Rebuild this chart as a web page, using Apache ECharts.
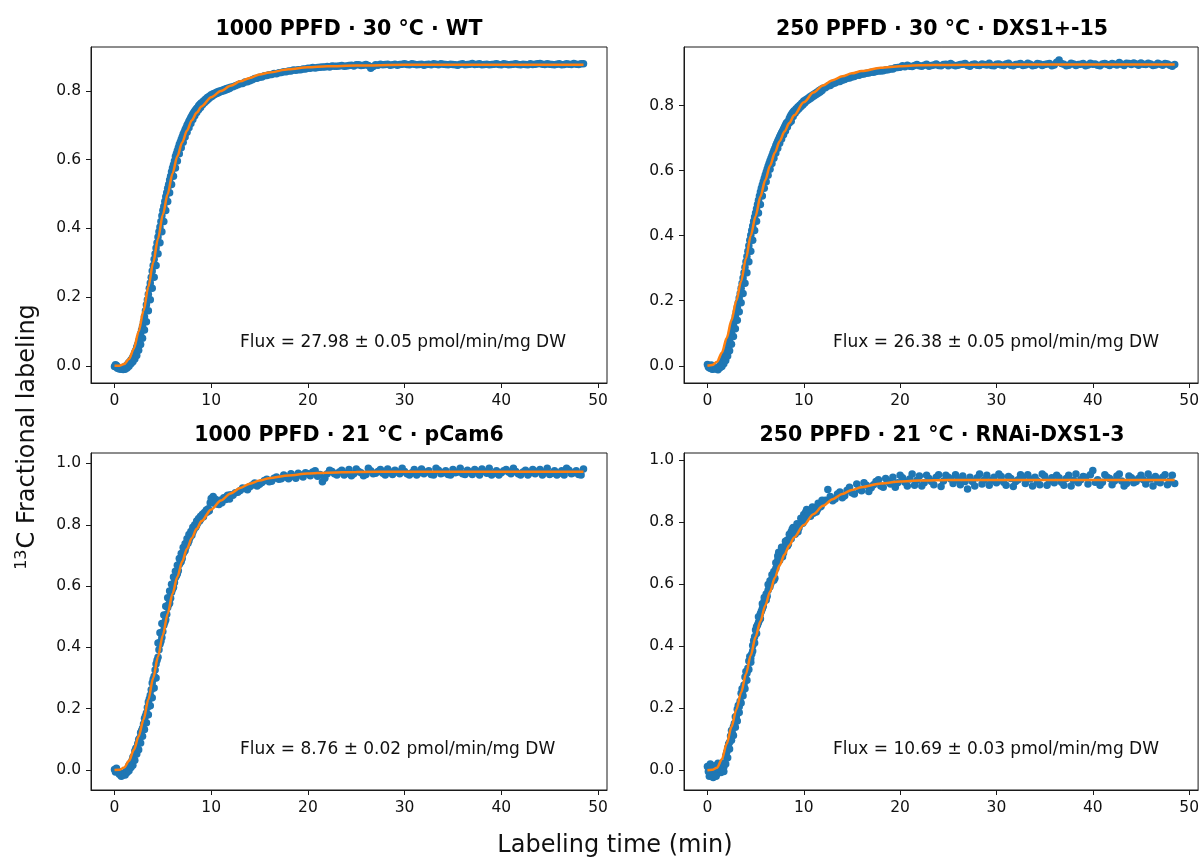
<!DOCTYPE html>
<html>
<head>
<meta charset="utf-8">
<title>13C fractional labeling</title>
<script src="https://cdn.jsdelivr.net/npm/echarts@6/dist/echarts.min.js"></script>
<style>
  html, body { margin: 0; padding: 0; background: #fff; }
  #main { width: 1202px; height: 859px; }
</style>
</head>
<body>
<div id="main"></div>
<script>
// sampling times (min), shared by the four measured series
var times = [
  0, 0.2, 0.4, 0.6, 0.8, 1, 1.2, 1.4,
  1.5, 1.6, 1.7, 1.8, 1.9, 2, 2.1, 2.2, 2.3, 2.4,
  2.5, 2.6, 2.7, 2.8, 2.9, 3, 3.1, 3.2, 3.3, 3.4,
  3.5, 3.6, 3.7, 3.8, 3.9, 4, 4.1, 4.2, 4.3, 4.4,
  4.5, 4.6, 4.7, 4.8, 4.9, 5, 5.1, 5.2, 5.3, 5.4,
  5.5, 5.6, 5.7, 5.8, 5.9, 6, 6.1, 6.2, 6.3, 6.4,
  6.5, 6.6, 6.7, 6.8, 6.9, 7, 7.1, 7.2, 7.3, 7.4,
  7.5, 7.6, 7.7, 7.8, 7.9, 8, 8.1, 8.2, 8.3, 8.4,
  8.5, 8.6, 8.7, 8.8, 8.9,
  9, 9.2, 9.4, 9.6, 9.8, 10, 10.2, 10.4,
  10.6, 10.8, 11, 11.2, 11.4, 11.6, 11.8, 12,
  12.5, 13, 13.5, 14, 14.5, 15, 15.5, 16, 16.5, 17,
  17.5, 18, 18.5, 19, 19.5, 20, 20.5, 21, 21.5, 22,
  22.5, 23, 23.5, 24, 24.5, 25, 25.5, 26, 26.5, 27,
  27.5, 28, 28.5, 29, 29.5, 30, 30.5, 31, 31.5, 32,
  32.5, 33, 33.5, 34, 34.5, 35, 35.5, 36, 36.5, 37,
  37.5, 38, 38.5, 39, 39.5, 40, 40.5, 41, 41.5, 42,
  42.5, 43, 43.5, 44, 44.5, 45, 45.5, 46, 46.5, 47,
  47.5, 48, 48.5,
  // second pass of samples
  0.1, 0.3, 0.5, 0.7, 0.9, 1.1, 1.3, 1.5, 1.7, 1.9,
  2.1, 2.3, 2.5, 2.7, 2.9, 3.1, 3.3, 3.5, 3.7, 3.9,
  4.1, 4.3, 4.5, 4.7, 4.9, 5.1, 5.3, 5.5, 5.7, 5.9,
  6.1, 6.3, 6.5, 6.7, 6.9, 7.1, 7.3, 7.5, 7.7, 7.9,
  8.1, 8.3, 8.5, 8.7, 8.9, 9.1, 9.3, 9.5, 9.7, 9.9,
  10.1, 10.3, 10.5, 10.7, 10.9, 11.1, 11.3, 11.5, 11.7, 11.9,
  12.25, 12.75, 13.25, 13.75, 14.25, 14.75, 15.25, 15.75, 16.25, 16.75,
  17.25, 17.75, 18.25, 18.75, 19.25, 19.75, 20.25, 20.75, 21.25, 21.75,
  22.25, 22.75, 23.25, 23.75, 24.25, 24.75, 25.25, 25.75, 26.25, 26.75,
  27.25, 27.75, 28.25, 28.75, 29.25, 29.75, 30.25, 30.75, 31.25, 31.75,
  32.25, 32.75, 33.25, 33.75, 34.25, 34.75, 35.25, 35.75, 36.25, 36.75,
  37.25, 37.75, 38.25, 38.75, 39.25, 39.75, 40.25, 40.75, 41.25, 41.75,
  42.25, 42.75, 43.25, 43.75, 44.25, 44.75, 45.25, 45.75, 46.25, 46.75,
  47.25, 47.75, 48.25
];

var wtMeasured = [
  -0.002, 0.001, -0.004, -0.006, -0.008, -0.004, 0.000, 0.006,
  0.010, 0.012, 0.017, 0.020, 0.026, 0.030, 0.039, 0.045, 0.055, 0.062,
  0.072, 0.080, 0.093, 0.104, 0.115, 0.128, 0.143, 0.160, 0.178, 0.192,
  0.208, 0.226, 0.241, 0.258, 0.276, 0.292, 0.310, 0.326, 0.343, 0.358,
  0.375, 0.390, 0.404, 0.420, 0.437, 0.452, 0.464, 0.478, 0.492, 0.504,
  0.517, 0.528, 0.541, 0.552, 0.565, 0.576, 0.585, 0.596, 0.609, 0.617,
  0.626, 0.635, 0.644, 0.651, 0.659, 0.666, 0.674, 0.680, 0.687, 0.693,
  0.700, 0.705, 0.712, 0.717, 0.723, 0.728, 0.733, 0.737, 0.742, 0.745,
  0.749, 0.752, 0.757, 0.760, 0.763,
  0.766, 0.771, 0.776, 0.781, 0.785, 0.789, 0.792, 0.794,
  0.797, 0.799, 0.801, 0.803, 0.805, 0.807, 0.809, 0.811,
  0.815, 0.821, 0.826, 0.830, 0.836, 0.840, 0.844, 0.847, 0.851, 0.853,
  0.856, 0.858, 0.861, 0.862, 0.864, 0.866, 0.868, 0.868, 0.870, 0.871,
  0.873, 0.872, 0.874, 0.873, 0.875, 0.876, 0.874, 0.877, 0.866, 0.876,
  0.878, 0.877, 0.875, 0.878, 0.877, 0.879, 0.876, 0.878, 0.877, 0.875,
  0.878, 0.879, 0.876, 0.878, 0.876, 0.877, 0.875, 0.879, 0.877, 0.880,
  0.878, 0.876, 0.878, 0.877, 0.879, 0.876, 0.878, 0.877, 0.879, 0.876,
  0.877, 0.879, 0.878, 0.880, 0.877, 0.878, 0.876, 0.879, 0.877, 0.878,
  0.880, 0.877, 0.879,
  0.003, -0.007, -0.009, -0.010, -0.011, -0.010, -0.006, -0.001, 0.006, 0.012,
  0.020, 0.030, 0.045, 0.062, 0.080, 0.104, 0.128, 0.160, 0.192, 0.226,
  0.258, 0.292, 0.326, 0.358, 0.390, 0.420, 0.452, 0.478, 0.504, 0.528,
  0.552, 0.576, 0.596, 0.617, 0.635, 0.651, 0.666, 0.680, 0.693, 0.705,
  0.717, 0.728, 0.737, 0.745, 0.752, 0.760, 0.766, 0.771, 0.776, 0.781,
  0.785, 0.789, 0.792, 0.794, 0.797, 0.799, 0.801, 0.803, 0.805, 0.807,
  0.812, 0.818, 0.822, 0.827, 0.833, 0.837, 0.841, 0.845, 0.848, 0.850,
  0.854, 0.856, 0.858, 0.860, 0.862, 0.864, 0.866, 0.867, 0.869, 0.870,
  0.870, 0.872, 0.873, 0.872, 0.874, 0.873, 0.876, 0.875, 0.874, 0.871,
  0.875, 0.876, 0.878, 0.876, 0.875, 0.878, 0.877, 0.879, 0.876, 0.878,
  0.877, 0.876, 0.878, 0.879, 0.877, 0.878, 0.876, 0.878, 0.876, 0.878,
  0.877, 0.879, 0.877, 0.876, 0.878, 0.877, 0.879, 0.876, 0.878, 0.877,
  0.878, 0.876, 0.877, 0.879, 0.878, 0.879, 0.877, 0.878, 0.876, 0.879,
  0.877, 0.878, 0.879
];

var dxsMeasured = [
  0.004, -0.006, 0.002, -0.010, -0.008, -0.006, -0.002, 0.006,
  0.010, 0.016, 0.022, 0.030, 0.038, 0.046, 0.056, 0.066, 0.078, 0.090,
  0.101, 0.114, 0.127, 0.140, 0.153, 0.166, 0.180, 0.194, 0.208, 0.222,
  0.238, 0.254, 0.270, 0.286, 0.303, 0.320, 0.336, 0.352, 0.369, 0.386,
  0.401, 0.416, 0.430, 0.444, 0.457, 0.470, 0.483, 0.496, 0.509, 0.522,
  0.534, 0.546, 0.556, 0.566, 0.576, 0.586, 0.595, 0.604, 0.613, 0.622,
  0.630, 0.638, 0.646, 0.654, 0.662, 0.669, 0.677, 0.684, 0.691, 0.697,
  0.704, 0.710, 0.716, 0.722, 0.728, 0.734, 0.740, 0.746, 0.749, 0.752,
  0.760, 0.766, 0.772, 0.776, 0.780,
  0.784, 0.790, 0.796, 0.802, 0.808, 0.814, 0.818, 0.822,
  0.826, 0.830, 0.834, 0.838, 0.842, 0.846, 0.850, 0.853,
  0.860, 0.867, 0.873, 0.878, 0.884, 0.888, 0.893, 0.896, 0.899, 0.902,
  0.905, 0.906, 0.909, 0.912, 0.916, 0.918, 0.919, 0.921, 0.923, 0.922,
  0.924, 0.921, 0.925, 0.923, 0.926, 0.922, 0.925, 0.924, 0.927, 0.923,
  0.926, 0.924, 0.928, 0.925, 0.923, 0.927, 0.925, 0.928, 0.924, 0.926,
  0.929, 0.925, 0.927, 0.924, 0.928, 0.926, 0.929, 0.925, 0.940, 0.927,
  0.924, 0.928, 0.926, 0.929, 0.925, 0.927, 0.924, 0.928, 0.926, 0.929,
  0.925, 0.927, 0.930, 0.926, 0.928, 0.931, 0.926, 0.928, 0.925, 0.927,
  0.929, 0.924, 0.926,
  -0.004, -0.008, -0.011, -0.004, -0.010, -0.012, -0.006, -0.002, 0.006, 0.016,
  0.030, 0.046, 0.066, 0.090, 0.114, 0.140, 0.166, 0.194, 0.222, 0.254,
  0.286, 0.320, 0.352, 0.386, 0.416, 0.444, 0.470, 0.496, 0.522, 0.546,
  0.566, 0.586, 0.604, 0.622, 0.638, 0.654, 0.669, 0.684, 0.697, 0.710,
  0.722, 0.734, 0.746, 0.752, 0.766, 0.776, 0.784, 0.790, 0.796, 0.802,
  0.808, 0.814, 0.818, 0.822, 0.826, 0.830, 0.834, 0.838, 0.842, 0.846,
  0.855, 0.862, 0.869, 0.874, 0.880, 0.885, 0.889, 0.893, 0.897, 0.900,
  0.902, 0.906, 0.907, 0.910, 0.912, 0.917, 0.922, 0.924, 0.920, 0.926,
  0.921, 0.927, 0.923, 0.928, 0.922, 0.927, 0.929, 0.922, 0.926, 0.929,
  0.921, 0.928, 0.923, 0.926, 0.930, 0.922, 0.928, 0.923, 0.930, 0.922,
  0.927, 0.923, 0.930, 0.922, 0.929, 0.923, 0.928, 0.922, 0.933, 0.929,
  0.922, 0.930, 0.923, 0.927, 0.922, 0.930, 0.928, 0.922, 0.929, 0.923,
  0.927, 0.932, 0.923, 0.929, 0.931, 0.924, 0.927, 0.930, 0.923, 0.930,
  0.924, 0.928, 0.921
];

var pcamMeasured = [
  0.002, 0.006, -0.004, -0.012, -0.018, -0.010, -0.004, 0.006,
  0.016, 0.020, 0.018, 0.030, 0.042, 0.046, 0.062, 0.070, 0.074, 0.086,
  0.100, 0.104, 0.122, 0.128, 0.136, 0.150, 0.168, 0.176, 0.186, 0.204,
  0.222, 0.232, 0.244, 0.262, 0.284, 0.296, 0.306, 0.326, 0.346, 0.358,
  0.368, 0.392, 0.410, 0.420, 0.432, 0.452, 0.472, 0.482, 0.490, 0.508,
  0.530, 0.540, 0.544, 0.560, 0.580, 0.590, 0.596, 0.612, 0.628, 0.634,
  0.640, 0.650, 0.670, 0.676, 0.680, 0.690, 0.706, 0.712, 0.716, 0.728,
  0.742, 0.740, 0.748, 0.758, 0.770, 0.766, 0.776, 0.784, 0.794, 0.792,
  0.798, 0.806, 0.816, 0.812, 0.818,
  0.824, 0.826, 0.838, 0.842, 0.846, 0.886, 0.892, 0.884,
  0.868, 0.866, 0.878, 0.880, 0.884, 0.892, 0.890, 0.898,
  0.904, 0.912, 0.918, 0.924, 0.936, 0.932, 0.944, 0.940, 0.952, 0.948,
  0.962, 0.950, 0.958, 0.968, 0.956, 0.966, 0.972, 0.958, 0.940, 0.966,
  0.974, 0.962, 0.978, 0.968, 0.960, 0.982, 0.970, 0.964, 0.976, 0.968,
  0.980, 0.962, 0.972, 0.978, 0.966, 0.974, 0.962, 0.980, 0.970, 0.966,
  0.976, 0.962, 0.978, 0.970, 0.964, 0.980, 0.972, 0.966, 0.978, 0.964,
  0.974, 0.982, 0.968, 0.962, 0.976, 0.970, 0.980, 0.966, 0.974, 0.962,
  0.978, 0.970, 0.966, 0.980, 0.972, 0.964, 0.976, 0.968, 0.962, 0.978,
  0.970, 0.964, 0.982,
  -0.006, -0.002, -0.014, -0.020, -0.014, -0.016, -0.008, -0.002, 0.008, 0.016,
  0.032, 0.052, 0.066, 0.088, 0.110, 0.132, 0.154, 0.180, 0.210, 0.236,
  0.268, 0.300, 0.414, 0.448, 0.478, 0.506, 0.534, 0.562, 0.584, 0.606,
  0.630, 0.648, 0.668, 0.690, 0.706, 0.726, 0.738, 0.754, 0.768, 0.778,
  0.792, 0.800, 0.812, 0.820, 0.828, 0.834, 0.840, 0.848, 0.852, 0.872,
  0.878, 0.870, 0.874, 0.872, 0.880, 0.872, 0.888, 0.882, 0.896, 0.884,
  0.896, 0.906, 0.920, 0.914, 0.930, 0.926, 0.938, 0.948, 0.942, 0.956,
  0.950, 0.956, 0.966, 0.952, 0.962, 0.970, 0.960, 0.976, 0.964, 0.952,
  0.978, 0.966, 0.972, 0.962, 0.980, 0.966, 0.974, 0.960, 0.984, 0.966,
  0.974, 0.968, 0.982, 0.964, 0.972, 0.984, 0.966, 0.970, 0.962, 0.982,
  0.972, 0.964, 0.984, 0.966, 0.976, 0.962, 0.970, 0.984, 0.964, 0.972,
  0.980, 0.962, 0.974, 0.984, 0.968, 0.962, 0.976, 0.972, 0.984, 0.966,
  0.972, 0.962, 0.980, 0.974, 0.962, 0.984, 0.968, 0.962, 0.976, 0.984,
  0.966, 0.976, 0.962
];

var rnaiMeasured = [
  0.012, -0.020, 0.004, -0.024, 0.014, -0.012, 0.016, -0.008,
  0.002, 0.018, 0.010, 0.024, 0.046, 0.058, 0.072, 0.084, 0.090, 0.110,
  0.128, 0.118, 0.140, 0.150, 0.172, 0.172, 0.196, 0.208, 0.204, 0.222,
  0.248, 0.262, 0.258, 0.274, 0.300, 0.318, 0.312, 0.328, 0.352, 0.366,
  0.360, 0.374, 0.402, 0.418, 0.430, 0.452, 0.440, 0.468, 0.476, 0.484,
  0.504, 0.512, 0.520, 0.528, 0.546, 0.554, 0.568, 0.560, 0.580, 0.588,
  0.610, 0.602, 0.614, 0.628, 0.640, 0.618, 0.650, 0.662, 0.676, 0.702,
  0.696, 0.698, 0.706, 0.688, 0.712, 0.716, 0.724, 0.734, 0.742, 0.728,
  0.744, 0.756, 0.768, 0.776, 0.762,
  0.770, 0.782, 0.768, 0.790, 0.804, 0.824, 0.832, 0.818,
  0.836, 0.840, 0.828, 0.846, 0.838, 0.856, 0.850, 0.862,
  0.904, 0.868, 0.890, 0.878, 0.902, 0.894, 0.922, 0.900, 0.918, 0.910,
  0.930, 0.916, 0.940, 0.922, 0.912, 0.950, 0.928, 0.938, 0.918, 0.948,
  0.926, 0.940, 0.920, 0.952, 0.932, 0.944, 0.924, 0.936, 0.948, 0.906,
  0.930, 0.942, 0.922, 0.950, 0.934, 0.926, 0.946, 0.918, 0.940, 0.930,
  0.952, 0.924, 0.938, 0.944, 0.920, 0.948, 0.932, 0.926, 0.942, 0.918,
  0.950, 0.934, 0.926, 0.946, 0.922, 0.966, 0.936, 0.928, 0.944, 0.920,
  0.948, 0.932, 0.924, 0.942, 0.930, 0.950, 0.922, 0.938, 0.946, 0.926,
  0.952, 0.932, 0.924,
  -0.004, 0.020, -0.016, 0.008, -0.020, 0.022, 0.004, 0.012, -0.004, 0.020,
  0.040, 0.068, 0.096, 0.112, 0.138, 0.158, 0.186, 0.216, 0.240, 0.262,
  0.290, 0.324, 0.348, 0.384, 0.410, 0.462, 0.494, 0.488, 0.536, 0.556,
  0.548, 0.598, 0.592, 0.630, 0.612, 0.668, 0.690, 0.676, 0.718, 0.700,
  0.738, 0.722, 0.760, 0.746, 0.782, 0.760, 0.794, 0.780, 0.812, 0.796,
  0.812, 0.840, 0.826, 0.818, 0.848, 0.840, 0.832, 0.860, 0.848, 0.870,
  0.870, 0.882, 0.874, 0.896, 0.884, 0.912, 0.890, 0.906, 0.926, 0.898,
  0.920, 0.936, 0.912, 0.930, 0.944, 0.926, 0.942, 0.916, 0.954, 0.934,
  0.916, 0.950, 0.930, 0.944, 0.914, 0.950, 0.938, 0.952, 0.920, 0.930,
  0.944, 0.916, 0.954, 0.936, 0.918, 0.944, 0.954, 0.928, 0.946, 0.914,
  0.936, 0.944, 0.952, 0.916, 0.932, 0.954, 0.918, 0.942, 0.950, 0.928,
  0.940, 0.916, 0.954, 0.936, 0.944, 0.952, 0.928, 0.918, 0.952, 0.940,
  0.932, 0.954, 0.916, 0.948, 0.926, 0.940, 0.936, 0.954, 0.916, 0.930,
  0.944, 0.920, 0.950
];

// fitted curves
var fitTimes = [0, 0.5, 1, 1.5, 2, 2.5, 3, 3.5, 4, 4.5, 5, 5.5, 6, 6.5, 7, 7.5, 8, 8.5, 9, 10, 11, 12, 13, 14, 15, 16, 18, 20, 22, 25, 30, 35, 40, 48.5];
var wtFit = [0, 0, 0.005, 0.02, 0.05, 0.10, 0.16, 0.23, 0.30, 0.37, 0.44, 0.50, 0.56, 0.61, 0.65, 0.685, 0.715, 0.737, 0.755, 0.782, 0.80, 0.815, 0.828, 0.838, 0.848, 0.854, 0.863, 0.869, 0.872, 0.874, 0.876, 0.876, 0.876, 0.876];
var dxsFit = [0, 0.002, 0.012, 0.04, 0.085, 0.14, 0.20, 0.26, 0.33, 0.40, 0.46, 0.52, 0.57, 0.615, 0.655, 0.69, 0.72, 0.746, 0.77, 0.81, 0.84, 0.862, 0.878, 0.89, 0.899, 0.906, 0.916, 0.921, 0.924, 0.925, 0.926, 0.926, 0.926, 0.926];
var pcamFit = [0, 0.001, 0.008, 0.03, 0.066, 0.11, 0.164, 0.23, 0.30, 0.37, 0.44, 0.51, 0.575, 0.63, 0.68, 0.722, 0.757, 0.787, 0.812, 0.85, 0.879, 0.902, 0.92, 0.934, 0.944, 0.952, 0.961, 0.967, 0.97, 0.972, 0.973, 0.973, 0.973, 0.973];
var rnaiFit = [0, 0.001, 0.008, 0.035, 0.085, 0.14, 0.195, 0.25, 0.31, 0.37, 0.43, 0.48, 0.53, 0.575, 0.62, 0.66, 0.695, 0.724, 0.75, 0.79, 0.825, 0.852, 0.873, 0.89, 0.903, 0.912, 0.924, 0.93, 0.933, 0.935, 0.935, 0.935, 0.935, 0.935];

var titles = [
  "1000 PPFD · 30 °C · WT",
  "250 PPFD · 30 °C · DXS1+-15",
  "1000 PPFD · 21 °C · pCam6",
  "250 PPFD · 21 °C · RNAi-DXS1-3"
];
var fluxTexts = [
  "Flux = 27.98 ± 0.05 pmol/min/mg DW",
  "Flux = 26.38 ± 0.05 pmol/min/mg DW",
  "Flux = 8.76 ± 0.02 pmol/min/mg DW",
  "Flux = 10.69 ± 0.03 pmol/min/mg DW"
];
var xTicks = [0, 10, 20, 30, 40, 50];
var yTicksTop = [0, 0.2, 0.4, 0.6, 0.8];
var yTicksBottom = [0, 0.2, 0.4, 0.6, 0.8, 1.0];

var panels = [
  { measured: wtMeasured, fit: wtFit, yMin: -0.05, yMax: 0.928, yTicks: yTicksTop, left: 91, top: 47, height: 336 },
  { measured: dxsMeasured, fit: dxsFit, yMin: -0.053, yMax: 0.98, yTicks: yTicksTop, left: 684, top: 47, height: 336 },
  { measured: pcamMeasured, fit: pcamFit, yMin: -0.065, yMax: 1.034, yTicks: yTicksBottom, left: 91, top: 453, height: 337 },
  { measured: rnaiMeasured, fit: rnaiFit, yMin: -0.064, yMax: 1.022, yTicks: yTicksBottom, left: 684, top: 453, height: 337 }
];

var font = "DejaVu Sans";
var ink = "#1a1a1a";
var chart = echarts.init(document.getElementById("main"));

var grids = [], xAxes = [], yAxes = [], series = [], graphics = [];
panels.forEach(function (p, i) {
  grids.push({
    left: p.left, top: p.top, width: 516, height: p.height,
    show: true, borderColor: ink, borderWidth: 1
  });
  xAxes.push({
    gridIndex: i, type: "value", min: -2.43, max: 50.93,
    axisLine: { show: true, onZero: false, lineStyle: { color: ink, width: 1 } },
    axisTick: { show: true, customValues: xTicks, length: 5, lineStyle: { color: ink } },
    axisLabel: { customValues: xTicks, margin: 10, fontFamily: font, fontSize: 15.5, color: "#111" },
    splitLine: { show: false }
  });
  yAxes.push({
    gridIndex: i, type: "value", min: p.yMin, max: p.yMax,
    axisLine: { show: true, onZero: false, lineStyle: { color: ink, width: 1 } },
    axisTick: { show: true, customValues: p.yTicks, length: 5, lineStyle: { color: ink } },
    axisLabel: {
      customValues: p.yTicks, margin: 10, fontFamily: font, fontSize: 15.5, color: "#111",
      formatter: function (v) { return v.toFixed(1); }
    },
    splitLine: { show: false }
  });
  series.push({
    type: "scatter", xAxisIndex: i, yAxisIndex: i,
    symbolSize: 7.5,
    itemStyle: { color: "#1f77b4", opacity: 1 },
    data: times.map(function (t, k) { return [t, p.measured[k]]; }),
    z: 2
  });
  series.push({
    type: "line", xAxisIndex: i, yAxisIndex: i,
    showSymbol: false, smooth: 0.3, smoothMonotone: "x",
    lineStyle: { color: "#ff7f0e", width: 2.5 },
    data: fitTimes.map(function (t, k) { return [t, p.fit[k]]; }),
    z: 3
  });
  graphics.push({
    type: "text", x: p.left + 258, y: p.top - 17,
    style: {
      text: titles[i], fontFamily: font, fontWeight: "bold", fontSize: 20.5,
      fill: "#000", align: "center", verticalAlign: "middle"
    }
  });
  graphics.push({
    type: "text", x: p.left + 149, y: p.top + p.height - 40,
    style: {
      text: fluxTexts[i], fontFamily: font, fontSize: 17,
      fill: "#111", align: "left", verticalAlign: "middle"
    }
  });
});

graphics.push({
  type: "text", x: 615, y: 846,
  style: {
    text: "Labeling time (min)", fontFamily: font, fontSize: 24,
    fill: "#111", align: "center", verticalAlign: "middle"
  }
});
graphics.push({
  type: "text", x: 28, y: 437, rotation: Math.PI / 2,
  style: {
    text: "{sup|13}C Fractional labeling",
    fontFamily: font, fontSize: 24, fill: "#111",
    align: "center", verticalAlign: "middle",
    rich: {
      sup: { fontFamily: font, fontSize: 16, fill: "#111", padding: [0, 1, 12, 0] }
    }
  }
});

chart.setOption({
  animation: false,
  backgroundColor: "#fff",
  grid: grids,
  xAxis: xAxes,
  yAxis: yAxes,
  series: series,
  graphic: graphics
});
</script>
</body>
</html>
